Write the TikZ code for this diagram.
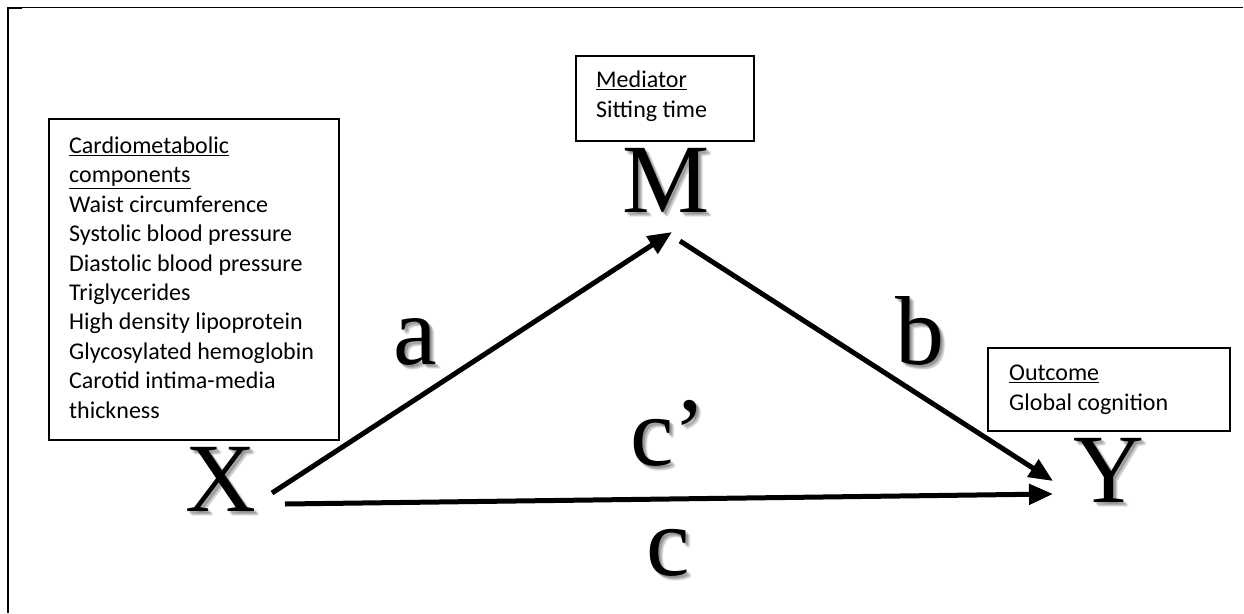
\documentclass[tikz,border=0pt]{standalone}
\usepackage{fontspec}
\setmainfont{Liberation Serif}
\newfontfamily\boxfont{Carlito}
\usetikzlibrary{arrows.meta}
\tikzset{
  framebox/.style={draw, line width=1.6pt, inner sep=0pt, anchor=north west},
  boxtext/.style={anchor=base west, inner sep=0pt, align=left,
    font=\boxfont\fontsize{24}{29.4}\selectfont},
  bigletter/.style={anchor=base west, inner sep=0pt, font=\fontsize{98}{98}\selectfont},
  shadowletter/.style={bigletter, text=black, opacity=0.07},
  arrowline/.style={line width=5pt, -{Triangle[length=24pt,width=20pt]}},
}
\newcommand{\shadowed}[3]{%
  \foreach \dx/\dy in {1/1,2/2,3/3,4/4,2/3,3/2,4/5,5/4}{
    \node[shadowletter] at ([xshift=\dx pt,yshift=-\dy pt]#2) {#3};
  }
  \node[bigletter] (#1) at (#2) {#3};
}
\begin{document}
\begin{tikzpicture}[x=1pt,y=-1pt]
\useasboundingbox (0,0) rectangle (1244,613);
% page frame lines
\draw[line width=1pt] (7,7.5) -- (1243,7.5);
\draw[line width=2pt] (8,7) -- (8,613);
\draw[line width=2pt] (7,8) -- (22,8);

% boxes
\node[framebox, minimum width=290pt, minimum height=321pt] (cmbox) at (48,118) {};
\node[boxtext] (cmtext) at (69,418) {\underline{Cardiometabolic}\\\underline{components}\\Waist circumference\\Systolic blood pressure\\Diastolic blood pressure\\Triglycerides\\High density lipoprotein\\Glycosylated hemoglobin\\Carotid intima-media\\thickness};

\node[framebox, minimum width=178pt, minimum height=85pt] (medbox) at (575,55) {};
\node[boxtext] (medtext) at (596,117) {\underline{Mediator}\\Sitting time};

\node[framebox, minimum width=242pt, minimum height=83pt] (outbox) at (987,347) {};
\node[boxtext] (outtext) at (1009,410) {\underline{Outcome}\\Global cognition};

% big letters
\coordinate (posX) at (185,511);
\coordinate (posM) at (622,212);
\coordinate (posY) at (1073,502);
\coordinate (posa) at (393,364);
\coordinate (posb) at (895,364);
\coordinate (poscp) at (630,465);
\coordinate (posc) at (646,575);
\shadowed{X}{posX}{X}
\shadowed{M}{posM}{M}
\shadowed{Y}{posY}{Y}
\shadowed{la}{posa}{a}
\shadowed{lb}{posb}{b}
\shadowed{lcp}{poscp}{c’}
\shadowed{lc}{posc}{c}

% arrow end points
\coordinate (aS) at (272,493);
\coordinate (aE) at (672,232);
\coordinate (bS) at (680,241);
\coordinate (bE) at (1053,481);
\coordinate (cS) at (285,504);
\coordinate (cE) at (1053,494);
\draw[arrowline] (aS) -- (aE);
\draw[arrowline] (bS) -- (bE);
\draw[arrowline] (cS) -- (cE);
\end{tikzpicture}
\end{document}
